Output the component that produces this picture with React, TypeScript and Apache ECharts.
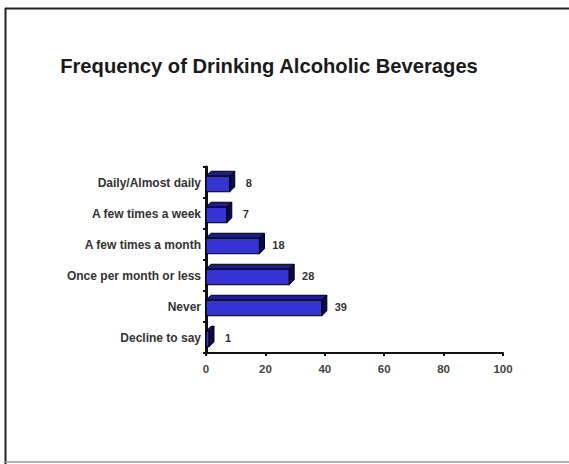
import React, { useEffect, useRef } from "react";
import * as echarts from "echarts";

const categories = [
  "Daily/Almost daily",
  "A few times a week",
  "A few times a month",
  "Once per month or less",
  "Never",
  "Decline to say",
];
const values = [8, 7, 18, 28, 39, 1];
const xTicks = [0, 20, 40, 60, 80, 100];

export default function App() {
  const ref = useRef<HTMLDivElement>(null);
  useEffect(() => {
    document.body.style.margin = "0";
    const chart = echarts.init(ref.current!, null, { renderer: "svg" });
    const D = 5;
    const FONT = "Liberation Sans, Arial, sans-serif";
    chart.setOption({
      animation: false,
      backgroundColor: "#ffffff",
      title: {
        text: "Frequency of Drinking Alcoholic Beverages",
        left: 264,
        textAlign: "center",
        top: 51,
        textStyle: {
          fontFamily: FONT,
          fontWeight: "bold",
          fontSize: 20.2,
          color: "#1a1a1a",
        },
      },
      graphic: [
        { type: "line", shape: { x1: 5.5, y1: 8, x2: 5.5, y2: 464 }, style: { stroke: "#222", lineWidth: 2 } },
        { type: "line", shape: { x1: 5, y1: 8.5, x2: 569, y2: 8.5 }, style: { stroke: "#222", lineWidth: 2 } },
        { type: "line", shape: { x1: 5, y1: 462, x2: 569, y2: 462 }, style: { stroke: "#999", lineWidth: 1.5 } },
      ],
      grid: { left: 206, top: 167, width: 297, height: 186, containLabel: false },
      xAxis: {
        type: "value",
        min: 0,
        max: 100,
        interval: 20,
        splitLine: { show: false },
        axisLine: { show: true, lineStyle: { color: "#111", width: 2 } },
        axisTick: { show: true, length: 3, lineStyle: { color: "#111", width: 2 } },
        axisLabel: {
          formatter: (v: number) => (xTicks.includes(v) ? String(v) : ""),
          fontFamily: FONT,
          fontWeight: "bold",
          fontSize: 11.5,
          color: "#444",
          margin: 10,
        },
      },
      yAxis: {
        type: "category",
        data: categories,
        inverse: true,
        axisLine: { show: true, lineStyle: { color: "#111", width: 3 } },
        axisTick: { show: true, length: 3, lineStyle: { color: "#111", width: 2 } },
        axisLabel: {
          fontFamily: FONT,
          fontWeight: "bold",
          fontSize: 12,
          color: "#333",
          margin: 5,
        },
      },
      series: [
        {
          type: "custom",
          data: values.map((v, i) => [v, i]),
          encode: { x: 0, y: 1 },
          renderItem: (params: any, api: any) => {
            const v = api.value(0);
            const idx = api.value(1);
            const p0 = api.coord([0, idx]);
            const p1 = api.coord([v, idx]);
            const band = api.size([0, 1])[1];
            const h = band * 0.5;
            const x0 = p0[0];
            const x1 = p1[0];
            const yc = p0[1] + 1.5;
            const y0 = yc - h / 2;
            const y1 = yc + h / 2;
            return {
              type: "group",
              children: [
                {
                  type: "polygon",
                  shape: { points: [[x0, y0], [x0 + D, y0 - D], [x1 + D, y0 - D], [x1, y0]] },
                  style: { fill: "#1c1c8a", stroke: "#000", lineWidth: 1 },
                },
                {
                  type: "polygon",
                  shape: { points: [[x1, y0], [x1 + D, y0 - D], [x1 + D, y1 - D], [x1, y1]] },
                  style: { fill: "#0a0a55", stroke: "#000", lineWidth: 1 },
                },
                {
                  type: "rect",
                  shape: { x: x0, y: y0, width: x1 - x0, height: h },
                  style: { fill: "#3434d4", stroke: "#000", lineWidth: 1.2 },
                },
                {
                  type: "text",
                  style: {
                    x: x1 + 19,
                    y: yc - 1.5,
                    text: String(v),
                    align: "center",
                    verticalAlign: "middle",
                    fontFamily: FONT,
                    fontWeight: "bold",
                    fontSize: 11,
                    fill: "#333",
                  },
                },
              ],
            };
          },
        },
      ],
    });
    return () => chart.dispose();
  }, []);
  return <div ref={ref} style={{ width: 569, height: 464 }} />;
}
